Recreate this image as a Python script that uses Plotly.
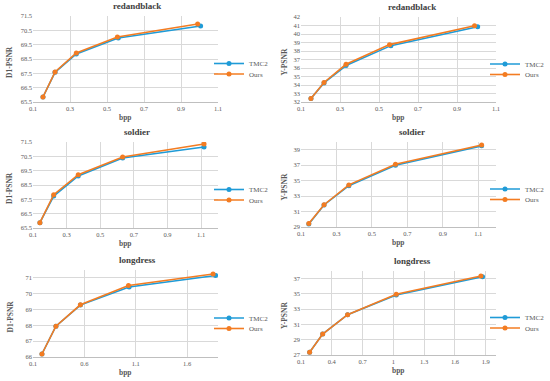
import plotly.graph_objects as go

# ---------------- data ----------------
titles = ["redandblack", "redandblack", "soldier", "soldier", "longdress", "longdress"]
y_titles = ["D1-PSNR", "Y-PSNR", "D1-PSNR", "Y-PSNR", "D1-PSNR", "Y-PSNR"]
x_title = "bpp"
series_names = ["TMC2", "Ours"]

# redandblack D1
rb_d1_tmc2_x = [0.154, 0.219, 0.334, 0.561, 1.006]
rb_d1_tmc2_y = [65.85, 67.57, 68.85, 69.97, 70.80]
rb_d1_ours_x = [0.154, 0.219, 0.334, 0.556, 0.990]
rb_d1_ours_y = [65.85, 67.60, 68.92, 70.03, 70.94]
# redandblack Y
rb_y_tmc2_x = [0.151, 0.218, 0.331, 0.561, 1.006]
rb_y_tmc2_y = [32.40, 34.25, 36.29, 38.63, 40.85]
rb_y_ours_x = [0.151, 0.218, 0.331, 0.554, 0.990]
rb_y_ours_y = [32.40, 34.30, 36.44, 38.75, 40.97]
# soldier D1
so_d1_tmc2_x = [0.141, 0.223, 0.369, 0.633, 1.117]
so_d1_tmc2_y = [65.87, 67.73, 69.13, 70.38, 71.15]
so_d1_ours_x = [0.141, 0.223, 0.369, 0.633, 1.117]
so_d1_ours_y = [65.87, 67.82, 69.22, 70.45, 71.36]
# soldier Y
so_y_tmc2_x = [0.144, 0.230, 0.370, 0.633, 1.119]
so_y_tmc2_y = [29.40, 31.85, 34.35, 37.00, 39.50]
so_y_ours_x = [0.144, 0.230, 0.370, 0.633, 1.119]
so_y_ours_y = [29.44, 31.88, 34.45, 37.12, 39.60]
# longdress D1
ld_d1_tmc2_x = [0.187, 0.323, 0.561, 1.035, 1.877]
ld_d1_tmc2_y = [66.19, 67.95, 69.28, 70.43, 71.15]
ld_d1_ours_x = [0.187, 0.323, 0.561, 1.029, 1.852]
ld_d1_ours_y = [66.19, 67.95, 69.30, 70.52, 71.25]
# longdress Y
ld_y_tmc2_x = [0.184, 0.311, 0.554, 1.028, 1.869]
ld_y_tmc2_y = [27.35, 29.75, 32.28, 34.86, 37.26]
ld_y_ours_x = [0.184, 0.311, 0.554, 1.028, 1.853]
ld_y_ours_y = [27.35, 29.75, 32.28, 34.95, 37.35]

# axis ranges and ticks
x_ranges = [[0.1, 1.1], [0.1, 1.1], [0.1, 1.2], [0.1, 1.2], [0.1, 1.9], [0.1, 2.0]]
x_ticks = [
    [0.1, 0.3, 0.5, 0.7, 0.9, 1.1],
    [0.1, 0.3, 0.5, 0.7, 0.9, 1.1],
    [0.1, 0.3, 0.5, 0.7, 0.9, 1.1],
    [0.1, 0.3, 0.5, 0.7, 0.9, 1.1],
    [0.1, 0.6, 1.1, 1.6],
    [0.1, 0.4, 0.7, 1.0, 1.3, 1.6, 1.9],
]
y_ranges = [[65.5, 71.5], [32, 42], [65.5, 71.5], [29, 40], [66, 71.5], [27, 38]]
y_ticks = [
    [65.5, 66.5, 67.5, 68.5, 69.5, 70.5, 71.5],
    [32, 33, 34, 35, 36, 37, 38, 39, 40, 41, 42],
    [65.5, 66.5, 67.5, 68.5, 69.5, 70.5, 71.5],
    [29, 31, 33, 35, 37, 39],
    [66, 67, 68, 69, 70, 71],
    [27, 29, 31, 33, 35, 37],
]

panels = [
    (rb_d1_tmc2_x, rb_d1_tmc2_y, rb_d1_ours_x, rb_d1_ours_y),
    (rb_y_tmc2_x, rb_y_tmc2_y, rb_y_ours_x, rb_y_ours_y),
    (so_d1_tmc2_x, so_d1_tmc2_y, so_d1_ours_x, so_d1_ours_y),
    (so_y_tmc2_x, so_y_tmc2_y, so_y_ours_x, so_y_ours_y),
    (ld_d1_tmc2_x, ld_d1_tmc2_y, ld_d1_ours_x, ld_d1_ours_y),
    (ld_y_tmc2_x, ld_y_tmc2_y, ld_y_ours_x, ld_y_ours_y),
]

# ---------------- layout (pixels) ----------------
W, H = 550, 381
col_x = [(33, 218), (301, 496)]
row_y = [[(16, 102), (17, 102)], [(142, 228), (142, 227)], [(270, 357), (271, 355)]]
title_cx = [137, 412]
ytitle_x = [10, 284]
legend_x = [209, 485]

BLUE = "#1f9bd7"
ORANGE = "#f37c22"
SERIF = "Liberation Serif"
GRID = "#d9d9d9"
TXT = "#595959"

fig = go.Figure()
layout = dict(
    width=W, height=H, margin=dict(l=0, r=0, t=0, b=0, autoexpand=False),
    paper_bgcolor="white", plot_bgcolor="white", showlegend=True,
    font=dict(family=SERIF, size=7, color=TXT),
    annotations=[],
)

leg_id = 0
for i, (tx, ty, ox, oy) in enumerate(panels):
    r, c = divmod(i, 2)
    n = "" if i == 0 else str(i + 1)
    x0, x1 = col_x[c]
    y0, y1 = row_y[r][c]
    cy = (y0 + y1) / 2
    for k, (sx, sy, col, dy) in enumerate([(tx, ty, BLUE, 4.5), (ox, oy, ORANGE, 15)]):
        leg_id += 1
        lg = "legend" if leg_id == 1 else "legend" + str(leg_id)
        fig.add_trace(go.Scatter(
            x=sx, y=sy, name=series_names[k], mode="lines+markers", showlegend=True,
            line=dict(color=col, width=1.6), marker=dict(color=col, size=5),
            xaxis="x" + n, yaxis="y" + n, legend=lg))
        layout[lg] = dict(
            xref="container", yref="container", visible=True,
            x=legend_x[c] / W, xanchor="left",
            y=1 - (cy + dy) / H, yanchor="middle",
            bgcolor="rgba(0,0,0,0)", font=dict(family=SERIF, size=7, color=TXT),
            itemwidth=30, borderwidth=0)
    layout["xaxis" + n] = dict(
        domain=[x0 / W, x1 / W], anchor="y" + n, range=x_ranges[i],
        tickvals=x_ticks[i], showgrid=True, gridcolor=GRID, gridwidth=1,
        zeroline=False, showline=True, linecolor="#bfbfbf", linewidth=1,
        ticks="", tickfont=dict(family=SERIF, size=6.5, color=TXT),
        automargin=False, fixedrange=True)
    layout["yaxis" + n] = dict(
        domain=[1 - y1 / H, 1 - y0 / H], anchor="x" + n, range=y_ranges[i],
        tickvals=y_ticks[i], showgrid=True, gridcolor=GRID, gridwidth=1,
        zeroline=False, showline=False, ticks="",
        tickfont=dict(family=SERIF, size=6.5, color=TXT),
        automargin=False, fixedrange=True)
    # panel title
    layout["annotations"].append(dict(
        text="<b>" + titles[i] + "</b>", x=title_cx[c] / W, y=1 - (y0 - 10) / H,
        xref="paper", yref="paper", showarrow=False, xanchor="center", yanchor="middle",
        font=dict(family=SERIF, size=9, color="#404040")))
    # x axis title
    layout["annotations"].append(dict(
        text="<b>" + x_title + "</b>", x=(x0 + x1) / 2 / W, y=1 - (y1 + 15) / H,
        xref="paper", yref="paper", showarrow=False, xanchor="center", yanchor="middle",
        font=dict(family=SERIF, size=7.5, color=TXT)))
    # y axis title
    layout["annotations"].append(dict(
        text="<b>" + y_titles[i] + "</b>", x=ytitle_x[c] / W, y=1 - (cy + 3) / H,
        xref="paper", yref="paper", showarrow=False, xanchor="center", yanchor="middle",
        textangle=-90, font=dict(family=SERIF, size=7.5, color=TXT)))

fig.update_layout(**layout)
fig.write_html("out.html", config={"displayModeBar": False},
               post_script="document.body.style.margin='0';document.body.style.overflow='hidden';")
